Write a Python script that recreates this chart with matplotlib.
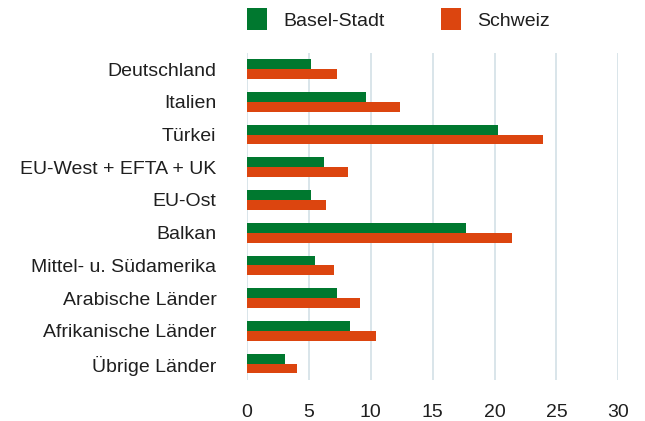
import numpy as np
import matplotlib
matplotlib.use("Agg")
import matplotlib.pyplot as plt

plt.rcParams['font.family'] = ['Liberation Sans', 'DejaVu Sans']

# Daten (Anteil in %)
kategorien = ["Deutschland", "Italien", "Türkei", "EU-West + EFTA + UK", "EU-Ost",
              "Balkan", "Mittel- u. Südamerika", "Arabische Länder",
              "Afrikanische Länder", "Übrige Länder"]
basel_stadt = [5.2, 9.6, 20.3, 6.2, 5.2, 17.7, 5.5, 7.3, 8.3, 3.1]
schweiz = [7.3, 12.4, 23.9, 8.2, 6.4, 21.4, 7.0, 9.1, 10.4, 4.0]
xticks = [0, 5, 10, 15, 20, 25, 30]

gruen = "#00782f"
orange = "#dc450f"
textfarbe = "#1f1f1f"

fig = plt.figure(figsize=(6.45, 4.21), dpi=100)
ax = fig.add_axes([247/645, 1-380/421, (618.3-247)/645, (380-52.7)/421])

y = np.arange(len(kategorien))
h = 0.3
ax.barh(y - h/2, basel_stadt, height=h, color=gruen, label="Basel-Stadt", zorder=3)
ax.barh(y + h/2, schweiz, height=h, color=orange, label="Schweiz", zorder=3)

ax.set_xlim(0, 30)
ax.set_ylim(len(kategorien) - 0.5, -0.5)
ax.set_xticks(xticks)
ax.set_yticks(y)
ax.set_yticklabels(kategorien)
ax.tick_params(axis='x', length=0, pad=17, labelsize=14, labelcolor=textfarbe)
ax.tick_params(axis='y', length=0, pad=22, labelsize=14, labelcolor=textfarbe)
for s in ax.spines.values():
    s.set_visible(False)
ax.grid(axis='x', color="#d3e0e6", linewidth=1.2, zorder=0)
ax.grid(axis='y', visible=False)

leg = fig.legend(loc='upper left', bbox_to_anchor=(247/645, 1 - 8/421), ncol=2,
                 frameon=False, fontsize=14, handlelength=1.03, handleheight=1.4,
                 handletextpad=0.82, columnspacing=2.9, borderpad=0, borderaxespad=0)
for t in leg.get_texts():
    t.set_color(textfarbe)

fig.savefig("out.png", dpi=100)
